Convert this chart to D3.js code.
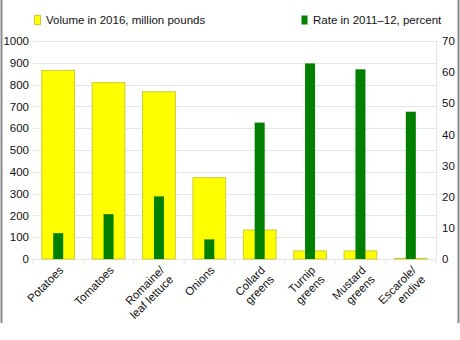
<!DOCTYPE html>
<html><head><meta charset="utf-8">
<script src="https://cdn.jsdelivr.net/npm/d3@7"></script>
<style>
body{margin:0;background:#fff;}
svg{display:block;font-family:"Liberation Sans",Arial,Helvetica,sans-serif;}
</style></head>
<body><svg id="c" width="460" height="340"></svg>
<script>
const categories = [["Potatoes"],["Tomatoes"],["Romaine/","leaf lettuce"],["Onions"],["Collard","greens"],["Turnip","greens"],["Mustard","greens"],["Escarole/","endive"]];
const volume2016 = [865, 809, 767, 373, 133, 37, 37, 3];
const rate2011 = [8.3, 14.4, 20.1, 6.3, 43.8, 62.8, 60.9, 47.3];
const leftTicks = [0,100,200,300,400,500,600,700,800,900,1000];
const rightTicks = [0,10,20,30,40,50,60,70];
const legendLabels = ["Volume in 2016, million pounds","Rate in 2011\u201312, percent"];

const svg = d3.select("#c");
const L = 33, R = 436, T = 41, B = 259;
const keys = categories.map((d,i)=>i);
const x = d3.scaleBand().domain(keys).range([L,R]).paddingInner(0.33).paddingOuter(0.165);
const xb = d3.scaleBand().domain(keys).range([L,R]);
const yL = d3.scaleLinear().domain([0,1000]).range([B,T]);
const yR = d3.scaleLinear().domain([0,70]).range([B,T]);

// border lines
svg.append("line").attr("x1",1.5).attr("x2",1.5).attr("y1",0).attr("y2",323).attr("stroke","#8a8a8a").attr("stroke-width",2);
svg.append("line").attr("x1",458.5).attr("x2",458.5).attr("y1",0).attr("y2",323).attr("stroke","#8a8a8a").attr("stroke-width",2);

// gridlines
svg.append("g").selectAll("line").data(leftTicks).join("line")
  .attr("x1",L).attr("x2",R).attr("y1",d=>Math.round(yL(d))+0.5).attr("y2",d=>Math.round(yL(d))+0.5)
  .attr("stroke","#e6e6e6").attr("stroke-width",1);
svg.append("line").attr("x1",R+0.5).attr("x2",R+0.5).attr("y1",T).attr("y2",B).attr("stroke","#e6e6e6");
svg.append("g").selectAll("line").data(d3.range(categories.length+1)).join("line")
  .attr("x1",d=>L+d*xb.step()).attr("x2",d=>L+d*xb.step()).attr("y1",B).attr("y2",B+5)
  .attr("stroke","#e6e6e6");

// axes labels
const gl = svg.append("g").attr("transform",`translate(${L-4},0)`)
  .call(d3.axisLeft(yL).tickValues(leftTicks).tickFormat(d3.format("d")).tickSize(0).tickPadding(0));
gl.select(".domain").remove();
gl.selectAll("text").attr("font-size",11.5).attr("fill","#111").attr("font-family","Liberation Sans, Arial, sans-serif");
const gr = svg.append("g").attr("transform",`translate(${R+6},0)`)
  .call(d3.axisRight(yR).tickValues(rightTicks).tickFormat(d3.format("d")).tickSize(0).tickPadding(0));
gr.select(".domain").remove();
gr.selectAll("text").attr("font-size",11.5).attr("fill","#111").attr("font-family","Liberation Sans, Arial, sans-serif");

// yellow bars
svg.append("g").selectAll("rect").data(volume2016).join("rect")
  .attr("x",(d,i)=>x(i)+0.5).attr("width",x.bandwidth()-1)
  .attr("y",d=>yL(d)).attr("height",d=>B-yL(d))
  .attr("fill","#ffff00").attr("stroke","#cccc33").attr("stroke-width",1);
// green bars
const gw = 10;
svg.append("g").selectAll("rect").data(rate2011).join("rect")
  .attr("x",(d,i)=>xb(i)+xb.bandwidth()/2-gw/2).attr("width",gw)
  .attr("y",d=>yR(d)).attr("height",d=>B-yR(d))
  .attr("fill","#007f00");

// x labels
const xl = svg.append("g").selectAll("g").data(categories).join("g")
  .attr("transform",(d,i)=>`translate(${xb(i)+xb.bandwidth()/2+6},${B+12}) rotate(-45)`);
xl.each(function(d){
  const t = d3.select(this).append("text").attr("text-anchor","end").attr("font-size",11.5).attr("fill","#111");
  d.forEach((s,j)=>{
    t.append("tspan").attr("x",0).attr("dy", j===0 ? 0 : 13).text(s);
  });
});

// legend
svg.append("rect").attr("x",34.5).attr("y",15.5).attr("width",6).attr("height",9).attr("fill","#ffff00").attr("stroke","#cccc33");
svg.append("text").attr("x",46).attr("y",24).attr("font-size",11.5).attr("fill","#111").text(legendLabels[0]);
svg.append("rect").attr("x",301.5).attr("y",15.5).attr("width",6).attr("height",9).attr("fill","#007f00");
svg.append("text").attr("x",313).attr("y",24).attr("font-size",11.5).attr("fill","#111").text(legendLabels[1]);
</script></body></html>
